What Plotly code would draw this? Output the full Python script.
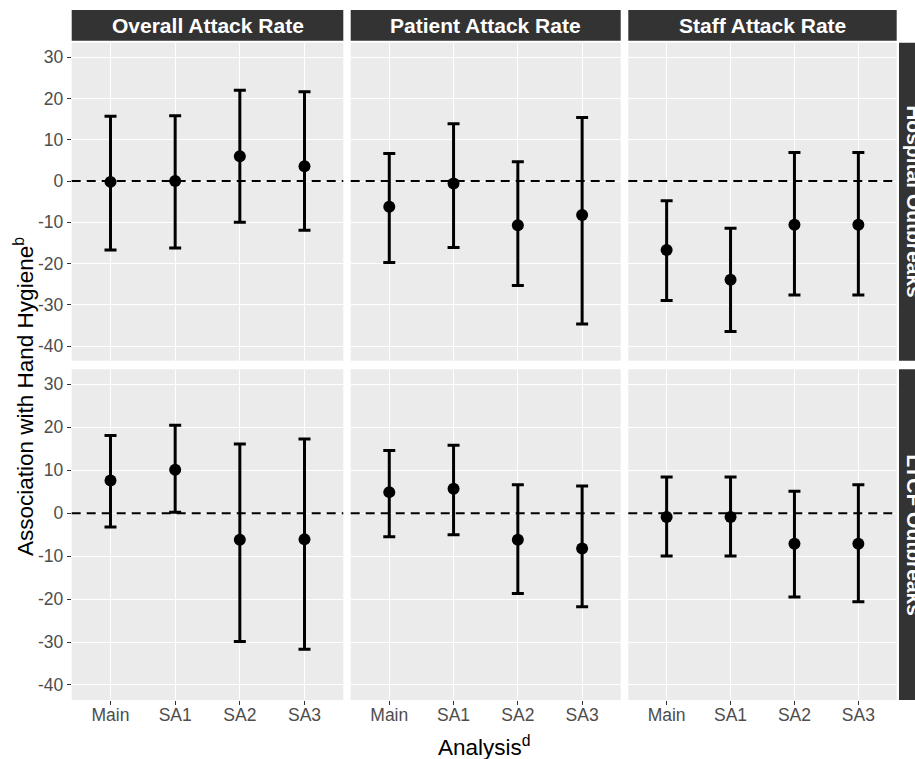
import plotly.graph_objects as go

# ---------------- data ----------------
analyses = ["Main", "SA1", "SA2", "SA3"]
outcomes = ["Overall Attack Rate", "Patient Attack Rate", "Staff Attack Rate"]
settings = ["Hospital Outbreaks", "LTCF Outbreaks"]
y_ticks = [-40, -30, -20, -10, 0, 10, 20, 30]
y_tick_labels = ["-40", "-30", "-20", "-10", "0", "10", "20", "30"]

# Hospital outbreaks
hosp_overall_est = [-0.2, 0.0, 6.0, 3.6]
hosp_overall_lo = [-16.7, -16.2, -10.0, -11.9]
hosp_overall_hi = [15.7, 15.8, 22.0, 21.6]

hosp_patient_est = [-6.2, -0.6, -10.7, -8.2]
hosp_patient_lo = [-19.7, -16.1, -25.3, -34.6]
hosp_patient_hi = [6.7, 13.9, 4.7, 15.4]

hosp_staff_est = [-16.7, -23.9, -10.6, -10.6]
hosp_staff_lo = [-28.9, -36.4, -27.6, -27.6]
hosp_staff_hi = [-4.8, -11.4, 6.9, 6.9]

# LTCF outbreaks
ltcf_overall_est = [7.6, 10.1, -6.2, -6.1]
ltcf_overall_lo = [-3.2, 0.2, -29.9, -31.7]
ltcf_overall_hi = [18.1, 20.5, 16.1, 17.3]

ltcf_patient_est = [4.9, 5.7, -6.2, -8.2]
ltcf_patient_lo = [-5.5, -5.0, -18.7, -21.8]
ltcf_patient_hi = [14.6, 15.8, 6.6, 6.3]

ltcf_staff_est = [-0.9, -0.9, -7.1, -7.1]
ltcf_staff_lo = [-10.0, -10.0, -19.5, -20.6]
ltcf_staff_hi = [8.4, 8.4, 5.1, 6.6]

panels = [
    [(hosp_overall_est, hosp_overall_lo, hosp_overall_hi),
     (hosp_patient_est, hosp_patient_lo, hosp_patient_hi),
     (hosp_staff_est, hosp_staff_lo, hosp_staff_hi)],
    [(ltcf_overall_est, ltcf_overall_lo, ltcf_overall_hi),
     (ltcf_patient_est, ltcf_patient_lo, ltcf_patient_hi),
     (ltcf_staff_est, ltcf_staff_lo, ltcf_staff_hi)],
]

# ---------------- layout geometry ----------------
W, H = 915, 759
FONT = "Liberation Sans, Arial, sans-serif"
x_dom_px = [(71.7, 343.3), (350.7, 620.7), (628.3, 896.7)]
y_dom_px = [(42.7, 360.7), (369.3, 700.0)]
strip_top_px = (10.0, 40.7)
strip_right_px = (899.0, 940.0)


def px_x(p):
    return p / W


def px_y(p):
    return 1 - p / H


fig = go.Figure()
layout = dict(
    width=W, height=H,
    margin=dict(l=0, r=0, t=0, b=0),
    paper_bgcolor="white",
    plot_bgcolor="#EBEBEB",
    showlegend=False,
    font=dict(family=FONT, color="#4D4D4D"),
)
shapes = []
annotations = []

idx = 0
for r in range(2):
    for c in range(3):
        idx += 1
        xa = "xaxis" if idx == 1 else f"xaxis{idx}"
        ya = "yaxis" if idx == 1 else f"yaxis{idx}"
        xr = "x" if idx == 1 else f"x{idx}"
        yr = "y" if idx == 1 else f"y{idx}"
        est, lo, hi = panels[r][c]
        fig.add_trace(go.Scatter(
            x=analyses, y=est, xaxis=xr, yaxis=yr, mode="markers",
            marker=dict(color="black", size=12),
            error_y=dict(type="data", symmetric=False,
                         array=[h - e for h, e in zip(hi, est)],
                         arrayminus=[e - l for e, l in zip(est, lo)],
                         color="black", thickness=3, width=6),
            hoverinfo="skip",
        ))
        x0, x1 = x_dom_px[c]
        y0, y1 = y_dom_px[r]
        layout[xa] = dict(
            domain=[px_x(x0), px_x(x1)], anchor=yr,
            type="category", range=[-0.6, 3.6],
            showgrid=True, gridcolor="white", gridwidth=1.2,
            zeroline=False, showline=False,
            ticks="outside" if r == 1 else "", ticklen=4, tickcolor="#333333",
            showticklabels=(r == 1), ticklabelstandoff=-5,
            tickfont=dict(size=17.5, color="#4D4D4D", family=FONT),
        )
        layout[ya] = dict(
            domain=[px_y(y1), px_y(y0)], anchor=xr,
            range=[-43.5, 33.5], tickvals=y_ticks, ticktext=y_tick_labels,
            showgrid=True, gridcolor="white", gridwidth=1.2,
            zeroline=False, showline=False,
            ticks="outside" if c == 0 else "", ticklen=4, tickcolor="#333333",
            showticklabels=(c == 0),
            tickfont=dict(size=17.5, color="#4D4D4D", family=FONT),
        )
        # reference line at zero
        shapes.append(dict(type="line", xref=f"{xr} domain", yref=yr,
                           x0=0, x1=1, y0=0, y1=0, layer="above",
                           line=dict(color="black", width=2, dash="9px,6px")))
        # top strips
        if r == 0:
            shapes.append(dict(type="rect", xref=f"{xr} domain", yref="paper",
                               x0=0, x1=1,
                               y0=px_y(strip_top_px[1]), y1=px_y(strip_top_px[0]),
                               fillcolor="#333333", line=dict(width=0), layer="above"))
            annotations.append(dict(text=f"<b>{outcomes[c]}</b>", xref=f"{xr} domain",
                                    yref="paper", x=0.5,
                                    y=px_y((strip_top_px[0] + strip_top_px[1]) / 2),
                                    showarrow=False, xanchor="center", yanchor="middle",
                                    font=dict(size=21, color="white", family=FONT)))
        # right strips
        if c == 2:
            shapes.append(dict(type="rect", xref="paper", yref=f"{yr} domain",
                               x0=px_x(strip_right_px[0]), x1=px_x(strip_right_px[1]),
                               y0=0, y1=1,
                               fillcolor="#333333", line=dict(width=0), layer="above"))
            annotations.append(dict(text=f"<b>{settings[r]}</b>", xref="paper",
                                    yref=f"{yr} domain", x=px_x(914.5), y=0.5,
                                    textangle=90, showarrow=False,
                                    xanchor="center", yanchor="middle",
                                    font=dict(size=21, color="white", family=FONT)))

# axis titles
annotations.append(dict(text="Association with Hand Hygiene<sup>b</sup>",
                        xref="paper", yref="paper", x=px_x(24), y=px_y(397),
                        textangle=-90, showarrow=False,
                        xanchor="center", yanchor="middle",
                        font=dict(size=22.5, color="black", family=FONT)))
annotations.append(dict(text="Analysis<sup>d</sup>",
                        xref="paper", yref="paper", x=px_x(484), y=px_y(746),
                        showarrow=False, xanchor="center", yanchor="middle",
                        font=dict(size=22.5, color="black", family=FONT)))

layout["shapes"] = shapes
layout["annotations"] = annotations
fig.update_layout(**layout)

fig.write_html(
    "out.html",
    config={"displayModeBar": False},
    post_script="document.body.style.margin='0';document.body.style.overflow='hidden';",
)
